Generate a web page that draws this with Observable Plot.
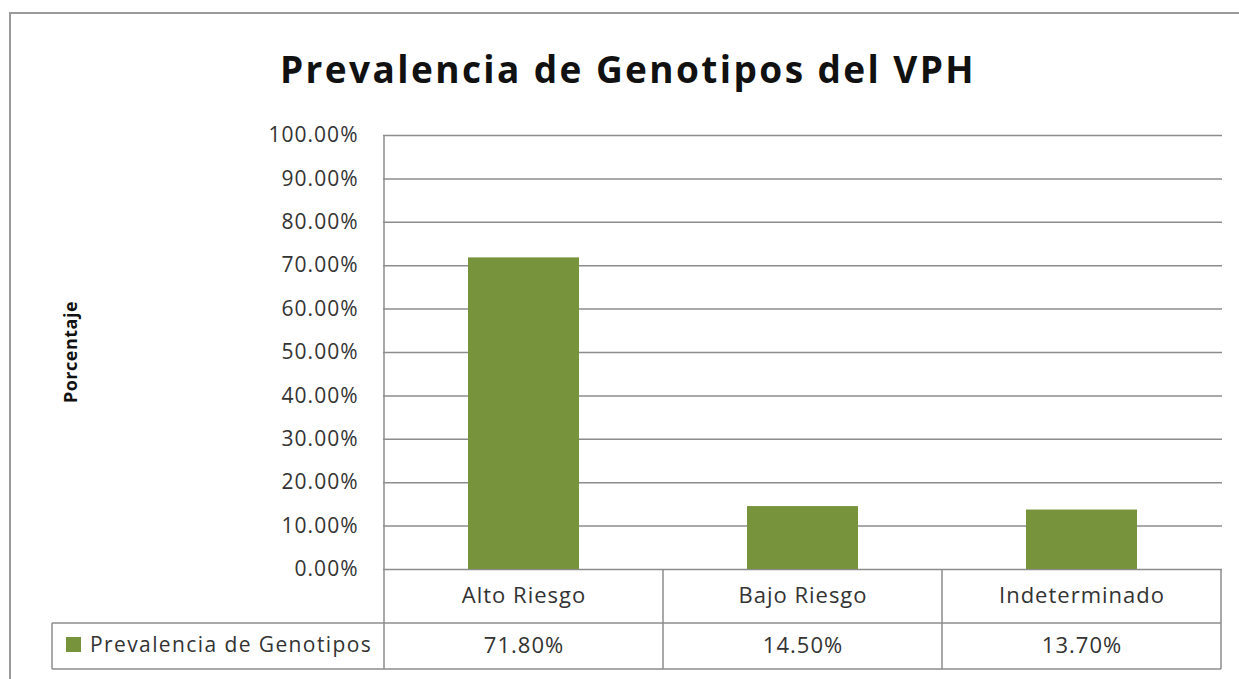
<!DOCTYPE html>
<html>
<head>
<meta charset="utf-8">
<script src="https://cdn.jsdelivr.net/npm/d3@7"></script>
<script src="https://cdn.jsdelivr.net/npm/@observablehq/plot@0.6"></script>
<style>
  html, body { margin: 0; padding: 0; background: #fff; overflow: hidden; }
  #wrap { position: relative; width: 1239px; height: 679px; overflow: hidden; font-family: "Open Sans", sans-serif; }
  #frame { position: absolute; left: 9px; top: 12px; width: 1300px; height: 720px; border: 2px solid #9a9a9a; box-sizing: border-box; }
  #title { position: absolute; left: 0; top: 44px; width: 1256px; text-align: center; font-size: 37px; font-weight: bold; color: #111; line-height: 50px; letter-spacing: 2.4px; }
  #chart { position: absolute; left: 0; top: 0; }
</style>
</head>
<body>
<div id="wrap">
  <div id="frame"></div>
  <div id="chart"></div>
  <div id="title">Prevalencia de Genotipos del VPH</div>
</div>
<script>
const categories = ["Alto Riesgo", "Bajo Riesgo", "Indeterminado"];
const values = [0.718, 0.145, 0.137];
const seriesName = "Prevalencia de Genotipos";
const yTicks = [0, 0.1, 0.2, 0.3, 0.4, 0.5, 0.6, 0.7, 0.8, 0.9, 1.0];
const yLabel = "Porcentaje";

const data = categories.map((c, i) => ({cat: c, val: values[i]}));
const fmt = d3.format(".2%");
const green = "#77933C";
const lineCol = "#8c8c8c";
const textCol = "#333";
const font = "Open Sans, sans-serif";

const chart = Plot.plot({
  width: 1239,
  height: 679,
  marginLeft: 383,
  marginRight: 17,
  marginTop: 135,
  marginBottom: 110,
  style: {fontFamily: font, fontSize: "21px", color: textCol, background: "transparent", overflow: "visible", letterSpacing: "1px"},
  x: {domain: categories, padding: 0, axis: null},
  y: {domain: [0, 1], ticks: yTicks, tickFormat: fmt, tickSize: 0, tickPadding: 25, label: null},
  marks: [
    Plot.ruleY(yTicks, {stroke: lineCol, strokeWidth: 1.5}),
    Plot.barY(data, {x: "cat", y: "val", fill: green, insetLeft: 84, insetRight: 84}),
    Plot.text(data, {x: "cat", text: "cat", frameAnchor: "bottom", dy: 33, fontSize: 22, fill: textCol}),
    Plot.text(data, {x: "cat", text: d => fmt(d.val), frameAnchor: "bottom", dy: 83, fontSize: 22, fill: textCol})
  ]
});
document.getElementById("chart").appendChild(chart);

// table lines and legend cell, positioned from the chart's own scales
const xs = chart.scale("x");
const ys = chart.scale("y");
const svg = d3.select(chart);
const y0 = ys.apply(0);
const bw = xs.bandwidth;
const left = xs.apply(categories[0]);
const right = xs.apply(categories[categories.length - 1]) + bw;
const rowSep = y0 + 54, rowEnd = y0 + 100, legendLeft = 52;
const g = svg.append("g").attr("stroke", lineCol).attr("stroke-width", 1.5).attr("fill", "none");
g.append("line").attr("x1", left).attr("x2", left).attr("y1", ys.apply(1)).attr("y2", rowEnd);
categories.forEach(c => {
  const xr = xs.apply(c) + bw;
  g.append("line").attr("x1", xr).attr("x2", xr).attr("y1", y0).attr("y2", rowEnd);
});
g.append("line").attr("x1", legendLeft).attr("x2", legendLeft).attr("y1", rowSep).attr("y2", rowEnd);
g.append("line").attr("x1", legendLeft).attr("x2", right).attr("y1", rowSep).attr("y2", rowSep);
g.append("line").attr("x1", legendLeft).attr("x2", right).attr("y1", rowEnd).attr("y2", rowEnd);
// legend cell
svg.append("rect").attr("x", 66).attr("y", rowSep + 14).attr("width", 15).attr("height", 15).attr("fill", green);
svg.append("text").attr("x", 90).attr("y", rowSep + 29).attr("text-anchor", "start")
  .attr("font-size", 21).attr("letter-spacing", "1.4px").attr("fill", textCol).attr("font-family", font).text(seriesName);
// y axis title
svg.append("text").attr("transform", `translate(77,${(ys.apply(0) + ys.apply(1)) / 2}) rotate(-90)`)
  .attr("text-anchor", "middle").attr("font-weight", "bold").attr("font-size", 18).attr("letter-spacing", "0.5px")
  .attr("fill", "#111").attr("font-family", font).text(yLabel);
</script>
</body>
</html>
